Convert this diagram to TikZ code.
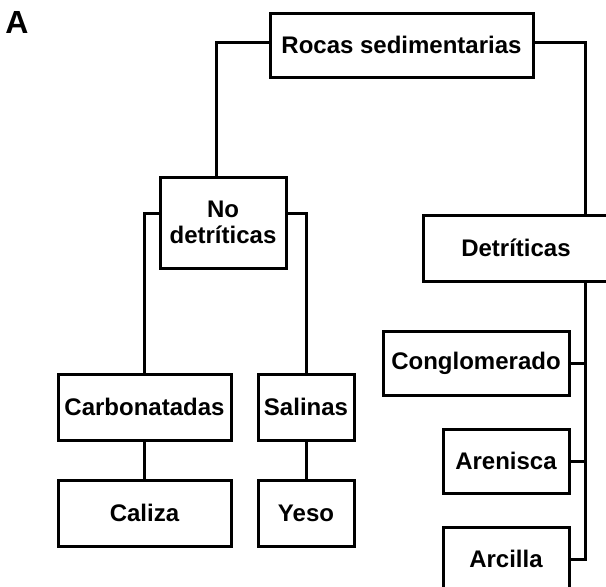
\documentclass[tikz,border=0pt]{standalone}
\usepackage{fontspec}
\setmainfont{Liberation Sans}
\usepackage{tikz}
\usetikzlibrary{calc}
\tikzset{
  rbox/.style   = {draw, line width=1.5pt, fill=white, align=center,
                   font=\fontsize{12}{13}\selectfont\bfseries, inner sep=0pt},
  wide/.style   = {rbox, minimum width=86.5pt, minimum height=33pt},
  narrow/.style = {rbox, minimum width=48pt, minimum height=33pt},
  link/.style   = {draw, line width=1.5pt},
  panel/.style  = {font=\fontsize{16}{16}\selectfont\bfseries, inner sep=0pt,
                   anchor=base west},
}

\begin{document}
\begin{tikzpicture}[x=0.5pt, y=-0.5pt]
  \useasboundingbox (0,0) rectangle (606,586);
  \clip (0,0) rectangle (606,586);

  \node[panel] (lbl) at (5,33) {A};

  % ---------- top -----------------------------------------------------------
  \node[rbox, minimum width=131.5pt, minimum height=32pt] (rocas) at (401.5,45)
       {Rocas sedimentarias};

  % ---------- left branch ---------------------------------------------------
  \node[rbox, minimum width=63pt, minimum height=45.5pt] (nodet) at (223,222.5)
       {No\\detríticas};
  \node[wide]   (carb)   at (144.5,407) {Carbonatadas};
  \node[narrow] (sal)    at (306,407)   {Salinas};
  \node[wide]   (caliza) at (144.5,513) {Caliza};
  \node[narrow] (yeso)   at (306,513)   {Yeso};

  % ---------- right branch --------------------------------------------------
  \node[rbox, minimum width=93pt, minimum height=33pt] (det) at (516,248)
       {Detríticas};
  \node[rbox, minimum width=93pt, minimum height=32pt] (cong) at (476,363)
       {Conglomerado};
  \node[rbox, minimum width=63pt, minimum height=32pt] (aren) at (506,461)
       {Arenisca};
  \node[rbox, minimum width=63pt, minimum height=32pt] (arci) at (506,559)
       {Arcilla};
  \coordinate (spx) at (585,0);

  % ---------- connectors ----------------------------------------------------
  \draw[link] ([yshift=1.5pt]rocas.west) -| ([xshift=-3.5pt]nodet.north);
  \draw[link] ([yshift=1.5pt]rocas.east) -| (det.north -| spx);
  \draw[link] ([yshift=4.75pt]nodet.west) -| (carb.north);
  \draw[link] ([yshift=4.75pt]nodet.east) -| (sal.north);
  \draw[link] (carb.south) -- (caliza.north);
  \draw[link] (sal.south) -- (yeso.north);
  \draw[link] (det.south -| spx) -- (arci.east -| spx) -- (arci.east);
  \draw[link] (cong.east) -- (cong.east -| spx);
  \draw[link] (aren.east) -- (aren.east -| spx);

\end{tikzpicture}
\end{document}
